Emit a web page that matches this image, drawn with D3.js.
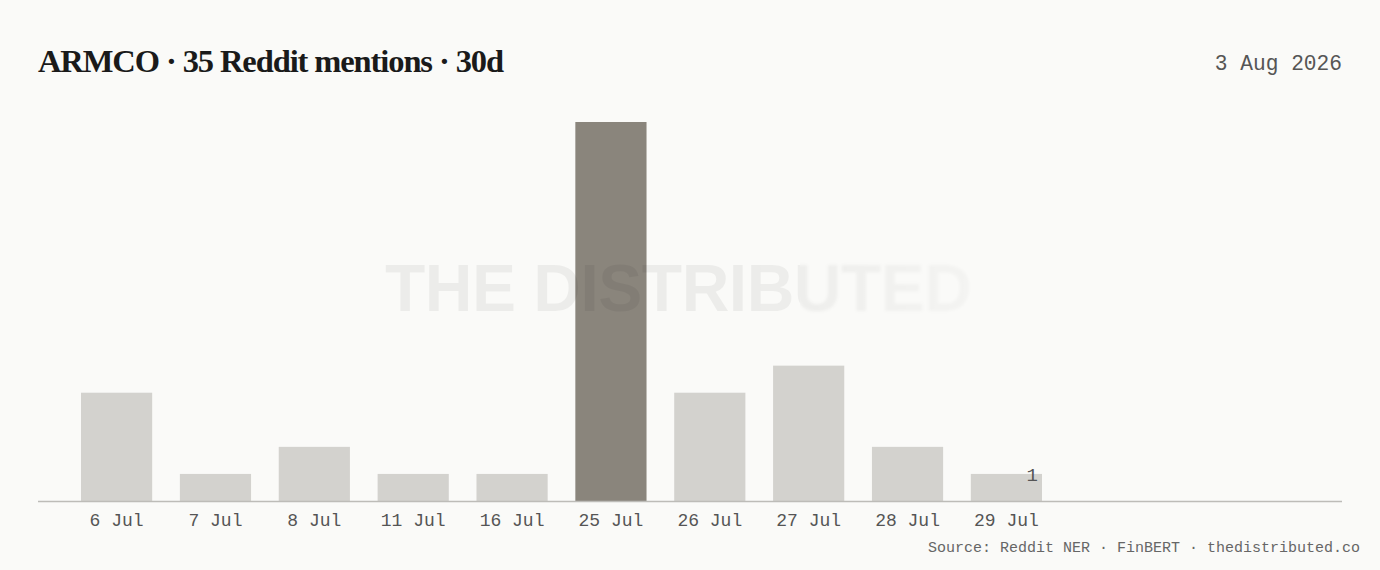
<!DOCTYPE html>
<html><head><meta charset="utf-8">
<script src="https://cdn.jsdelivr.net/npm/d3@7"></script>
<style>
html,body{margin:0;padding:0;background:#fafaf8;}
svg{display:block;}
</style></head>
<body>
<script>
const categories = ["6 Jul","7 Jul","8 Jul","11 Jul","16 Jul","25 Jul","26 Jul","27 Jul","28 Jul","29 Jul"];
const mentions = [4,1,2,1,1,14,4,5,2,1];
const highlight = ["25 Jul"];
const titleText = "ARMCO · 35 Reddit mentions · 30d";
const dateText = "3 Aug 2026";
const sourceText = "Source: Reddit NER · FinBERT · thedistributed.co";
const watermarkText = "THE DISTRIBUTED";

const W = 1380, H = 570;
const plotLeft = 38, plotRight = 1342, plotBase = 501, plotTop = 122;
const svg = d3.select("body").append("svg").attr("width", W).attr("height", H);
svg.append("rect").attr("width", W).attr("height", H).attr("fill", "#fafaf8");

const defs = svg.append("defs");
const grad = defs.append("linearGradient").attr("id","fade").attr("x1","0").attr("x2","1");
grad.append("stop").attr("offset","0").attr("stop-color","#fff").attr("stop-opacity",1);
grad.append("stop").attr("offset","0.6").attr("stop-color","#fff").attr("stop-opacity",1);
grad.append("stop").attr("offset","1").attr("stop-color","#fff").attr("stop-opacity",0.4);
const mask = defs.append("mask").attr("id","wm").attr("maskUnits","userSpaceOnUse")
  .attr("x",0).attr("y",0).attr("width",W).attr("height",H);
mask.append("rect").attr("x",380).attr("y",240).attr("width",610).attr("height",90).attr("fill","url(#fade)");
const blur = defs.append("filter").attr("id","blur").attr("x","-10%").attr("y","-30%").attr("width","120%").attr("height","160%");
blur.append("feGaussianBlur").attr("stdDeviation",1.8);
defs.append("clipPath").attr("id","clipL").append("rect").attr("x",0).attr("y",0).attr("width",800).attr("height",H);
defs.append("clipPath").attr("id","clipR").append("rect").attr("x",800).attr("y",0).attr("width",W).attr("height",H);

const x = d3.scaleBand().domain(categories).range([plotLeft, 1085]).paddingInner(0.28).paddingOuter(0.435);
const y = d3.scaleLinear().domain([0, 14]).range([plotBase, plotTop]);

// title
svg.append("text").attr("x", plotLeft).attr("y", 72)
  .attr("font-family", "'Liberation Serif', serif").attr("font-weight", 700)
  .attr("font-size", 32.5).attr("letter-spacing", -1.1).attr("fill", "#1a1a1a")
  .text(titleText);
svg.append("text").attr("x", plotRight).attr("y", 70).attr("text-anchor","end")
  .attr("font-family", "'Liberation Mono', monospace").attr("font-size", 21.2)
  .attr("fill", "#555").text(dateText);

// bars
svg.append("g").selectAll("rect").data(categories).join("rect")
  .attr("x", d => x(d)).attr("width", x.bandwidth())
  .attr("y", (d,i) => y(mentions[i])).attr("height", (d,i) => plotBase - y(mentions[i]))
  .attr("fill", d => highlight.includes(d) ? "#8a857c" : "#d3d2ce");

// axis
const axis = d3.axisBottom(x).tickSize(0).tickPadding(12);
const ag = svg.append("g").attr("transform", `translate(0,${plotBase})`).call(axis);
ag.select(".domain").remove();
ag.selectAll("text").attr("font-family","'Liberation Mono', monospace").attr("font-size",18).attr("fill","#555");
svg.append("line").attr("x1", plotLeft).attr("x2", plotRight).attr("y1", plotBase+0.5).attr("y2", plotBase+0.5)
  .attr("stroke", "#bdbcb8").attr("stroke-width", 1.5);

// last value label
const last = categories[categories.length-1];
svg.append("text").attr("x", x(last) + x.bandwidth() - 4).attr("y", y(mentions[mentions.length-1]) + 2)
  .attr("text-anchor","end").attr("dominant-baseline","middle")
  .attr("font-family","'Liberation Mono', monospace").attr("font-size",19).attr("fill","#555")
  .text(mentions[mentions.length-1]);

// watermark
const wmg = svg.append("g").attr("mask","url(#wm)");
function wm(g){
  return g.append("text").attr("x", 385).attr("y", 311)
    .attr("font-family","'Liberation Sans', Arial, sans-serif").attr("font-weight",700)
    .attr("font-size",66).attr("letter-spacing",-0.5).attr("fill","#000").attr("fill-opacity",0.055)
    .text(watermarkText);
}
wm(wmg.append("g").attr("clip-path","url(#clipL)"));
wm(wmg.append("g").attr("clip-path","url(#clipR)").attr("filter","url(#blur)"));

// source
svg.append("text").attr("x", 1360).attr("y", 552).attr("text-anchor","end")
  .attr("font-family","'Liberation Mono', monospace").attr("font-size",15).attr("fill","#666")
  .text(sourceText);
</script>
</body></html>
